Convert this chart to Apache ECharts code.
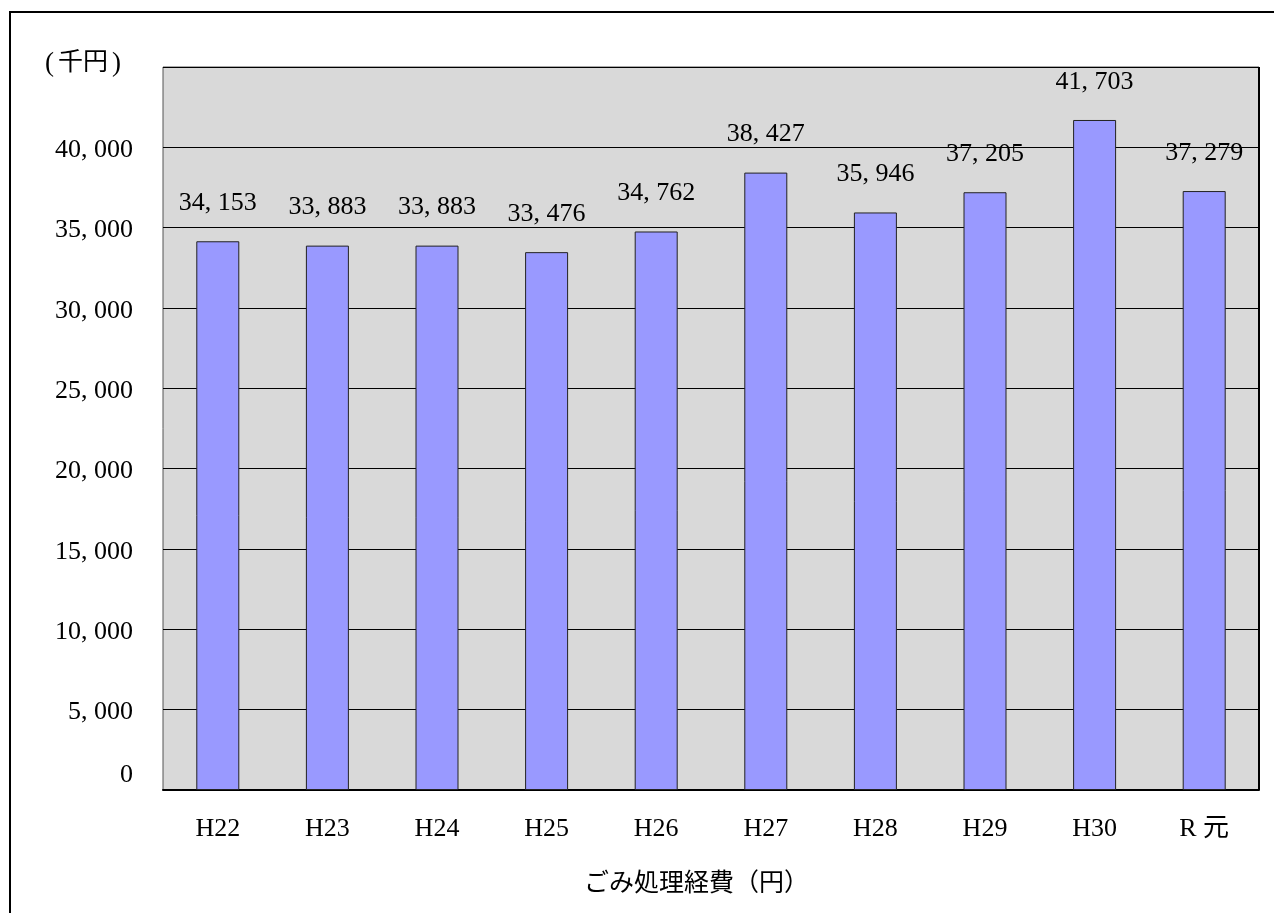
<!DOCTYPE html>
<html>
<head>
<meta charset="utf-8">
<style>
  html, body { margin: 0; padding: 0; background: #ffffff; }
  #chart { width: 1274px; height: 913px; }
</style>
<script src="https://cdn.jsdelivr.net/npm/echarts@6/dist/echarts.min.js"></script>
</head>
<body>
<div id="chart"></div>
<script>
// Fiscal years (Heisei 22 – Reiwa 1)
const categories = ['H22', 'H23', 'H24', 'H25', 'H26', 'H27', 'H28', 'H29', 'H30', 'R 元'];
// Waste-disposal cost, thousand yen
const costValues = [34153, 33883, 33883, 33476, 34762, 38427, 35946, 37205, 41703, 37279];
const yUnit = '千円';
const xAxisTitle = 'ごみ処理経費（円）';

const FONT = '"Liberation Serif", "DejaVu Serif", "Noto Sans CJK JP", serif';

// thousands separator written as "comma + space"
function fmt(v) {
  return String(v).replace(/\B(?=(\d{3})+(?!\d))/g, ', ');
}

const chart = echarts.init(document.getElementById('chart'), null, { renderer: 'canvas' });

chart.setOption({
  backgroundColor: '#ffffff',
  animation: false,
  grid: {
    left: 163,
    right: 15,
    top: 67,
    bottom: 123,
    show: true,
    backgroundColor: '#d9d9d9',
    borderColor: '#555555',
    borderWidth: 1
  },
  xAxis: {
    type: 'category',
    data: categories,
    axisLine: { show: true, lineStyle: { color: '#000', width: 2 } },
    axisTick: { show: false },
    axisLabel: {
      color: '#000',
      fontFamily: FONT,
      fontSize: 26,
      margin: 26
    }
  },
  yAxis: {
    type: 'value',
    min: 0,
    max: 45000,
    interval: 5000,
    axisLine: { show: false },
    axisTick: { show: false },
    splitLine: { show: true, lineStyle: { color: '#000', width: 1 } },
    axisLabel: {
      color: '#000',
      fontFamily: FONT,
      fontSize: 26,
      margin: 30,
      showMaxLabel: false,
      // the zero label sits a little above the axis line
      formatter: v => (v === 0 ? '{z|0}' : '{n|' + fmt(v) + '}'),
      rich: {
        z: { fontFamily: FONT, fontSize: 26, color: '#000', padding: [0, 0, 30, 0] },
        n: { fontFamily: FONT, fontSize: 26, color: '#000', padding: [6, 0, 0, 0] }
      }
    }
  },
  graphic: [
    {
      type: 'rect',
      silent: true,
      shape: { x: 10, y: 12, width: 1400, height: 1000 },
      style: { fill: 'none', stroke: '#000', lineWidth: 2 }
    },
    {
      type: 'line',
      silent: true,
      z: 10,
      shape: { x1: 1259, y1: 67, x2: 1259, y2: 790 },
      style: { stroke: '#000', lineWidth: 2 }
    },
    {
      type: 'text',
      left: 45,
      top: 50,
      style: {
        text: '{p|(}{c|' + yUnit + '}{p|)}',
        fontFamily: FONT,
        fontSize: 27,
        fill: '#000',
        rich: {
          p: { fontFamily: FONT, fontSize: 27, fill: '#000', padding: [0, 4, 0, 4] },
          c: { fontFamily: FONT, fontSize: 25, fill: '#000' }
        }
      }
    },
    {
      type: 'text',
      left: 584,
      top: 872,
      style: {
        text: xAxisTitle,
        fontFamily: FONT,
        fontSize: 25,
        fill: '#000'
      }
    }
  ],
  series: [
    {
      type: 'bar',
      data: costValues,
      barWidth: 43,
      itemStyle: { color: '#9999ff', borderColor: '#222', borderWidth: 1 },
      label: {
        show: true,
        position: 'top',
        distance: 25,
        color: '#000',
        fontFamily: FONT,
        fontSize: 26,
        formatter: p => fmt(p.value)
      }
    }
  ]
});
</script>
</body>
</html>
